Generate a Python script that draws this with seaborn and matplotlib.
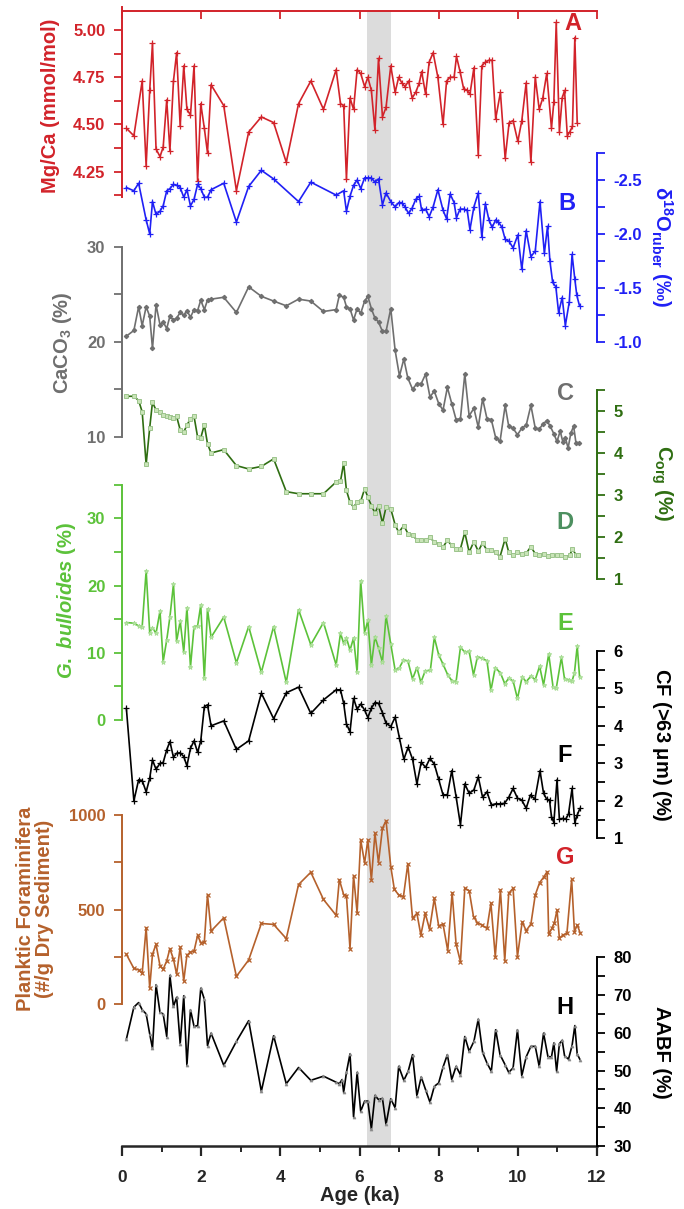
import matplotlib
matplotlib.use("Agg")
import matplotlib.pyplot as plt
import seaborn as sns
from matplotlib.ticker import FormatStrFormatter

# ---- data (age in ka) ----
age_mgca = [0.11,0.30,0.51,0.61,0.70,0.77,0.86,0.96,1.04,1.13,1.21,1.30,1.38,1.47,1.56,1.64,1.73,1.82,1.91,1.99,2.08,2.16,2.25,
            2.57,2.89,3.20,3.52,3.83,4.15,4.46,4.77,5.09,
            5.41,5.52,5.60,5.67,5.76,5.85,5.94,6.03,6.13,6.21,6.30,6.39,6.48,6.58,6.67,6.79,
            6.90,6.99,7.07,7.15,7.24,7.33,7.42,7.51,7.57,7.67,7.76,7.86,7.98,
            8.11,8.20,8.29,8.39,8.45,8.54,8.63,8.72,8.79,8.89,
            9.00,9.09,9.18,9.27,9.35,9.44,9.56,9.68,9.78,9.88,
            10.00,10.10,10.21,10.33,10.44,10.54,10.63,10.73,10.85,10.91,10.97,
            11.05,11.12,11.18,11.25,11.31,11.38,11.44,11.50]
mgca = [4.48,4.44,4.73,4.28,4.68,4.93,4.37,4.33,4.38,4.63,4.36,4.73,4.88,4.49,4.81,4.58,4.55,4.81,4.20,4.61,4.48,4.35,4.71,
        4.60,4.15,4.46,4.54,4.51,4.30,4.61,4.73,4.58,
        4.79,4.61,4.60,4.21,4.64,4.58,4.79,4.77,4.70,4.75,4.68,4.47,4.85,4.54,4.59,4.81,
        4.67,4.75,4.72,4.70,4.73,4.64,4.67,4.72,4.78,4.66,4.83,4.88,4.75,
        4.50,4.73,4.75,4.75,4.86,4.78,4.69,4.68,4.66,4.80,
        4.34,4.81,4.83,4.84,4.84,4.53,4.67,4.32,4.51,4.52,
        4.41,4.52,4.72,4.30,4.75,4.58,4.64,4.77,4.48,4.62,5.04,
        4.46,4.64,4.68,4.44,4.46,4.49,4.96,4.51]

age_d18o = [0.11,0.30,0.42,0.61,0.70,0.77,0.86,0.96,1.04,1.13,1.21,1.30,1.38,1.47,1.56,1.64,1.73,1.82,1.91,1.99,2.08,2.16,2.25,
            2.57,2.89,3.20,3.52,3.83,4.46,4.77,
            5.41,5.60,5.67,5.76,5.85,5.94,6.03,6.13,6.21,6.30,6.39,6.48,6.58,6.67,6.79,
            6.90,6.99,7.07,7.15,7.24,7.33,7.42,7.51,7.57,7.67,7.76,7.86,7.98,
            8.11,8.20,8.29,8.39,8.45,8.54,8.63,8.72,8.79,8.89,
            9.00,9.09,9.18,9.27,9.35,9.44,9.51,9.60,9.68,9.78,9.88,
            10.00,10.10,10.21,10.33,10.44,10.56,10.67,10.75,10.81,10.88,10.96,
            11.03,11.12,11.20,11.30,11.37,11.44,11.49,11.56]
d18o = [-2.43,-2.40,-2.47,-2.13,-2.00,-2.30,-2.18,-2.21,-2.26,-2.40,-2.42,-2.46,-2.45,-2.43,-2.34,-2.41,-2.26,-2.32,-2.46,-2.42,-2.34,-2.34,-2.41,
        -2.47,-2.11,-2.44,-2.59,-2.51,-2.30,-2.48,
        -2.36,-2.40,-2.21,-2.35,-2.45,-2.50,-2.42,-2.52,-2.52,-2.52,-2.48,-2.51,-2.27,-2.38,-2.30,
        -2.25,-2.29,-2.29,-2.25,-2.19,-2.24,-2.32,-2.35,-2.22,-2.23,-2.16,-2.25,-2.41,
        -2.22,-2.14,-2.37,-2.29,-2.15,-2.23,-2.23,-2.22,-2.04,-2.25,
        -2.38,-1.97,-2.28,-2.13,-2.06,-2.13,-2.11,-2.06,-1.95,-1.93,-1.87,
        -1.99,-1.67,-2.03,-1.79,-1.84,-2.30,-1.82,-2.07,-1.75,-1.55,-1.51,
        -1.27,-1.41,-1.15,-1.37,-1.81,-1.58,-1.43,-1.33]

age_caco3 = [0.11,0.30,0.42,0.51,0.61,0.70,0.77,0.86,0.96,1.04,1.13,1.21,1.30,1.38,1.47,1.56,1.64,1.73,1.82,1.91,1.99,2.08,2.16,2.25,
             2.57,2.89,3.20,3.52,3.83,4.15,4.46,4.77,5.09,5.41,5.49,5.60,5.67,5.76,5.85,5.94,6.03,6.13,6.21,6.30,6.39,6.48,6.58,6.67,6.79,
             6.90,7.01,7.12,7.22,7.34,7.45,7.56,7.67,7.78,7.89,
             8.00,8.11,8.22,8.33,8.44,8.55,8.66,8.77,8.89,
             9.00,9.11,9.22,9.33,9.44,9.55,9.68,9.77,9.88,9.99,
             10.10,10.21,10.33,10.44,10.54,10.63,10.73,10.82,10.91,10.99,
             11.07,11.14,11.20,11.27,11.34,11.41,11.47,11.55]
caco3 = [20.6,21.2,23.7,21.7,23.7,22.7,19.3,23.9,21.8,22.1,21.4,22.7,22.3,22.5,23.1,22.8,23.3,22.6,23.4,23.3,24.4,23.4,24.4,24.5,
         24.7,23.1,25.8,24.8,24.3,23.8,24.5,24.3,23.2,23.4,24.9,24.7,23.7,23.5,22.3,23.5,23.0,24.3,24.8,23.5,22.5,22.1,21.1,21.1,23.5,
         19.1,16.4,18.2,16.2,15.0,15.6,15.6,16.6,14.2,14.8,
         13.5,12.8,15.2,13.5,11.8,11.9,16.6,12.2,13.0,
         11.0,14.0,11.9,11.8,9.9,9.5,13.3,11.1,10.9,10.2,
         10.9,11.2,13.3,10.9,10.8,11.3,11.7,11.1,10.3,9.5,
         10.6,9.4,9.9,8.8,10.4,11.1,9.3,9.3]

age_corg = [0.11,0.30,0.42,0.51,0.61,0.70,0.77,0.86,0.96,1.04,1.13,1.21,1.30,1.38,1.47,1.56,1.64,1.73,1.82,1.91,1.99,2.08,2.16,2.25,
            2.57,2.89,3.20,3.52,3.83,4.15,4.46,4.77,5.09,5.41,5.52,5.60,5.67,5.76,5.85,5.94,6.03,6.13,6.21,6.30,6.39,6.48,6.58,6.67,6.79,
            6.90,6.99,7.12,7.23,7.34,7.45,7.56,7.67,7.78,7.89,
            8.00,8.11,8.22,8.33,8.44,8.55,8.66,8.77,8.89,
            9.00,9.11,9.22,9.33,9.44,9.55,9.68,9.77,9.88,9.99,
            10.10,10.21,10.33,10.44,10.54,10.65,10.76,10.87,10.98,
            11.09,11.20,11.31,11.38,11.47,11.53]
corg = [5.35,5.35,5.25,4.98,3.73,4.60,5.21,5.02,4.98,4.91,4.87,4.86,4.84,4.87,4.55,4.50,4.66,4.82,4.87,4.38,4.36,4.67,4.22,4.00,
        4.08,3.70,3.62,3.68,3.86,3.08,3.03,3.03,3.03,3.31,3.33,3.76,3.11,2.83,2.71,2.83,2.85,3.15,2.95,2.75,2.57,2.75,2.33,2.71,2.67,
        2.29,2.11,2.27,2.07,2.05,1.93,1.93,1.92,1.99,1.88,
        1.84,1.76,1.92,1.80,1.72,1.72,2.11,1.64,1.89,
        1.66,1.86,1.68,1.68,1.64,1.53,1.96,1.64,1.56,1.64,
        1.60,1.61,1.77,1.60,1.58,1.60,1.54,1.58,1.56,
        1.57,1.53,1.56,1.72,1.57,1.56]

age_bull = [0.11,0.30,0.42,0.51,0.61,0.70,0.77,0.86,0.96,1.04,1.13,1.21,1.30,1.38,1.47,1.56,1.64,1.73,1.82,1.91,1.99,2.08,2.16,2.25,
            2.57,2.89,3.20,3.52,3.83,4.15,4.46,4.77,5.09,5.41,5.52,5.60,5.67,5.76,5.85,5.94,6.03,6.13,6.21,6.30,6.39,6.48,6.58,6.67,6.79,
            6.90,7.01,7.11,7.22,7.34,7.45,7.55,7.66,7.79,7.89,
            8.00,8.11,8.23,8.34,8.44,8.55,8.66,8.77,8.88,8.98,
            9.09,9.22,9.32,9.43,9.56,9.67,9.77,9.88,9.99,
            10.11,10.21,10.33,10.44,10.55,10.65,10.78,10.89,10.97,
            11.10,11.18,11.28,11.37,11.43,11.50,11.56]
bull = [14.5,14.4,14.0,13.9,22.2,13.0,13.7,12.9,16.2,8.7,11.9,15.3,20.2,11.7,14.7,10.1,16.7,7.9,13.9,14.0,17.1,6.2,16.5,12.3,
        15.3,8.5,13.9,7.1,13.9,5.6,16.4,11.2,14.5,8.2,12.9,11.4,12.2,10.4,12.2,7.1,20.7,12.9,14.8,8.2,12.4,10.7,8.6,15.5,11.3,
        7.4,7.8,8.9,8.8,6.1,7.8,5.6,7.3,7.4,12.3,
        9.7,8.3,6.7,5.8,5.7,10.8,10.1,10.2,6.7,9.4,
        9.2,8.8,4.4,7.8,7.0,5.4,6.2,5.8,3.2,
        6.4,5.7,6.5,6.0,8.0,5.2,9.8,4.9,4.7,
        9.3,6.1,6.0,5.8,7.0,11.0,6.4]

age_cf = [0.11,0.30,0.42,0.51,0.61,0.70,0.77,0.86,0.96,1.04,1.13,1.21,1.30,1.38,1.47,1.56,1.64,1.73,1.82,1.91,1.99,2.08,2.16,2.25,
          2.57,2.89,3.20,3.52,3.83,4.15,4.46,4.77,5.09,5.41,5.52,5.60,5.67,5.76,5.85,5.94,6.03,6.13,6.21,6.30,6.39,6.48,6.58,6.67,6.79,
          6.90,7.01,7.12,7.23,7.34,7.45,7.56,7.67,7.78,7.89,
          8.00,8.11,8.22,8.33,8.44,8.55,8.66,8.77,8.89,
          9.00,9.11,9.22,9.33,9.44,9.55,9.66,9.77,9.88,9.99,
          10.10,10.21,10.32,10.43,10.56,10.65,10.73,10.80,10.85,10.91,10.99,
          11.05,11.13,11.21,11.28,11.37,11.44,11.50,11.57]
cf = [4.47,2.00,2.56,2.54,2.24,2.60,3.09,2.84,3.00,3.02,3.36,3.58,3.16,3.27,3.28,3.18,2.93,3.40,3.60,3.29,3.60,4.51,4.56,4.00,
      4.13,3.37,3.60,4.87,4.19,4.88,5.03,4.33,4.69,4.96,4.96,4.60,4.05,3.84,4.73,4.44,4.58,4.42,4.22,4.47,4.62,4.60,4.35,4.07,3.98,
      4.23,3.67,3.11,3.43,3.11,2.45,3.03,2.89,3.13,2.98,
      2.57,2.16,2.16,2.80,2.11,1.36,2.45,2.20,2.29,
      2.64,2.09,2.24,1.89,1.92,1.92,1.93,2.09,2.33,2.07,
      2.02,1.80,2.16,2.04,2.80,2.20,2.04,2.02,1.58,1.42,2.56,
      1.51,1.53,1.51,1.65,2.33,1.42,1.62,1.80]

age_pf = [0.11,0.30,0.42,0.51,0.61,0.70,0.77,0.86,0.96,1.04,1.13,1.21,1.30,1.38,1.47,1.56,1.64,1.73,1.82,1.91,1.99,2.08,2.16,2.25,
          2.57,2.89,3.20,3.52,3.83,4.15,4.46,4.77,5.09,
          5.41,5.49,5.60,5.67,5.76,5.85,5.94,6.03,6.13,
          6.21,6.30,6.39,6.48,6.58,6.67,6.79,6.88,6.99,7.11,7.22,7.34,7.45,7.55,7.66,7.77,7.89,
          8.00,8.11,8.23,8.34,8.44,8.55,8.66,8.77,8.88,8.98,
          9.09,9.22,9.32,9.43,9.56,9.67,9.77,9.88,9.99,
          10.11,10.21,10.33,10.44,10.55,10.65,10.74,10.78,10.86,10.92,10.99,
          11.05,11.14,11.24,11.36,11.43,11.50,11.58]
pf = [263,188,181,162,404,84,263,316,202,184,228,293,237,158,300,123,258,275,280,363,325,328,579,386,
      456,146,233,426,421,346,632,697,553,
      469,658,579,574,293,679,483,868,746,
      868,656,903,748,930,970,727,607,577,568,741,453,480,365,480,395,559,
      413,423,282,589,317,224,612,600,462,430,
      418,400,533,250,603,229,586,612,250,
      435,388,423,577,642,670,700,370,400,427,497,
      347,365,374,660,383,418,374]

age_aabf = [0.11,0.30,0.42,0.51,0.61,0.70,0.77,0.86,0.96,1.04,1.13,1.21,1.30,1.38,1.47,1.56,1.64,1.73,1.82,1.91,1.99,2.08,2.16,2.25,
            2.57,2.89,3.20,3.52,3.83,4.15,4.46,4.77,5.09,5.41,5.49,5.56,5.60,5.67,5.76,5.85,5.94,6.03,6.13,6.21,6.30,6.39,6.48,6.58,6.67,6.79,
            6.90,6.99,7.12,7.23,7.34,7.45,7.56,7.67,7.78,7.89,
            8.00,8.11,8.22,8.33,8.44,8.55,8.66,8.77,8.89,
            9.00,9.11,9.22,9.33,9.44,9.55,9.68,9.77,9.88,9.99,
            10.10,10.21,10.33,10.44,10.54,10.65,10.76,10.85,10.91,10.98,
            11.05,11.12,11.18,11.28,11.37,11.44,11.50,11.57]
aabf = [58.3,66.8,68.0,66.1,65.0,59.7,55.9,72.7,65.4,65.0,59.0,75.2,67.0,69.4,57.1,69.8,51.4,66.1,61.7,61.9,71.8,68.9,56.6,59.9,
        51.4,57.7,63.2,44.5,59.2,46.5,50.8,47.4,48.5,46.9,46.5,47.6,44.2,49.5,54.4,37.7,49.5,39.2,41.9,41.9,34.5,43.4,42.3,42.6,35.7,42.5,
        40.1,51.1,47.4,49.8,54.2,43.3,48.3,44.9,41.6,45.8,
        46.7,50.9,54.2,47.6,51.1,48.9,59.0,55.1,57.7,
        63.6,54.8,52.0,49.8,60.8,54.2,51.5,49.5,50.7,60.8,
        48.6,53.6,56.4,56.4,51.1,59.9,53.7,53.6,57.3,49.8,
        57.1,58.0,53.9,53.0,56.6,61.9,54.4,52.9]

x_ticks = [0, 2, 4, 6, 8, 10, 12]
event = (6.2, 6.8)

# ---- style ----
sns.set_style("ticks")
plt.rcParams['font.family'] = ['Liberation Sans', 'DejaVu Sans']
plt.rcParams['font.weight'] = 'bold'
plt.rcParams['axes.unicode_minus'] = False
plt.rcParams['mathtext.fontset'] = 'custom'
plt.rcParams['mathtext.rm'] = 'Liberation Sans:bold'
plt.rcParams['mathtext.bf'] = 'Liberation Sans:bold'
plt.rcParams['mathtext.it'] = 'Liberation Sans:bold:italic'
plt.rcParams['mathtext.default'] = 'bf'

RED = '#d2232a'
BLUE = '#2020f5'
GRAY = '#6f6f6f'
DKGREEN = '#2f6e12'
LTGREEN = '#5cc23a'
BROWN = '#b5612c'

W, H = 684, 1209
X0, X1 = 122, 597
YTOP, YBOT = 11, 1146
fig = plt.figure(figsize=(W / 100, H / 100), dpi=100)
rect = [X0 / W, 1 - YBOT / H, (X1 - X0) / W, (YBOT - YTOP) / H]


def ylims(v1, p1, v2, p2):
    # values at the bottom and top pixel rows of the shared plot box
    k = (v2 - v1) / (p2 - p1)
    return v1 + (YBOT - p1) * k, v1 + (YTOP - p1) * k


# base axes: age axis and shaded interval
ax0 = fig.add_axes(rect, label='base')
ax0.set_xlim(0, 12)
ax0.set_ylim(0, 1)
ax0.axvspan(*event, color='#dcdcdc', lw=0, zorder=0)
for s in ['left', 'right', 'top']:
    ax0.spines[s].set_visible(False)
ax0.spines['bottom'].set_linewidth(1.8)
ax0.set_xticks(x_ticks)
ax0.set_xticks(range(0, 13), minor=True)
ax0.set_yticks([])
ax0.tick_params(axis='x', which='major', length=7, width=1.6, labelsize=12.5, pad=10)
ax0.tick_params(axis='x', which='minor', length=4.5, width=1.4)
ax0.set_xlabel('Age (ka)', fontsize=14.5, fontweight='bold', labelpad=1)


def panel(name, side, color, cal, bounds, major, minor, fmt):
    ax = fig.add_axes(rect, sharex=ax0, label=name)
    ax.patch.set_visible(False)
    ax.set_ylim(*ylims(*cal))
    for s in ['left', 'right', 'top', 'bottom']:
        ax.spines[s].set_visible(False)
    sp = ax.spines[side]
    sp.set_visible(True)
    sp.set_bounds(*bounds)
    sp.set_color(color)
    sp.set_linewidth(1.4)
    if side == 'right':
        ax.yaxis.tick_right()
    else:
        ax.yaxis.tick_left()
    ax.set_yticks(major)
    ax.set_yticks(minor, minor=True)
    ax.yaxis.set_major_formatter(FormatStrFormatter(fmt))
    ax.tick_params(axis='y', which='both', colors=color, width=1.3, pad=6.5, labelsize=12)
    ax.tick_params(axis='y', which='major', length=5.5)
    ax.tick_params(axis='y', which='minor', length=5.5)
    ax.tick_params(axis='x', which='both', bottom=False, top=False, labelbottom=False, labeltop=False)
    return ax


def draw(ax, age, vals, color, marker, ms, mfc=None, mec=None, mew=0.9):
    sns.lineplot(x=age, y=vals, ax=ax, color=color, linewidth=1.2, sort=False, estimator=None,
                 marker=marker, markersize=ms, markeredgewidth=mew,
                 markeredgecolor=mec or color, markerfacecolor=mfc or color)
    ax.set_xlabel('')
    ax.set_ylabel('')


# A  Mg/Ca
axA = panel('A', 'left', RED, (5.0, 30.0, 4.25, 171.7), (4.115, 5.12),
            [4.25, 4.5, 4.75, 5.0], [4.125, 4.375, 4.625, 4.875], '%.2f')
axA.spines['top'].set_visible(True)
axA.spines['top'].set_color(RED)
axA.spines['top'].set_linewidth(1.4)
axA.tick_params(axis='x', which='major', top=True, direction='in', length=6, width=1.3, color=RED)
draw(axA, age_mgca, mgca, RED, '+', 4)

# B  d18O
axB = panel('B', 'right', BLUE, (-2.5, 180.0, -1.0, 341.7), (-2.75, -1.0),
            [-2.5, -2.0, -1.5, -1.0], [-2.75, -2.25, -1.75, -1.25], '%.1f')
draw(axB, age_d18o, d18o, BLUE, '+', 4)

# C  CaCO3
axC = panel('C', 'left', GRAY, (30, 247.0, 10, 436.7), (10, 30), [10, 20, 30], [15, 25], '%d')
draw(axC, age_caco3, caco3, GRAY, 'D', 2.2)

# D  Corg
axD = panel('D', 'right', DKGREEN, (5, 411.0, 1, 579.0), (1, 5.5),
            [1, 2, 3, 4, 5], [1.5, 2.5, 3.5, 4.5, 5.5], '%d')
draw(axD, age_corg, corg, DKGREEN, 's', 3.2, mfc='#c9e4b8', mec='#9cc48c', mew=0.7)

# E  G. bulloides
axE = panel('E', 'left', LTGREEN, (30, 518.3, 0, 720.0), (0, 35),
            [0, 10, 20, 30], [5, 15, 25, 35], '%d')
draw(axE, age_bull, bull, LTGREEN, '*', 3.5, mfc='#b8e6a6', mec='#a6dc92', mew=0.6)

# F  coarse fraction
axF = panel('F', 'right', 'black', (5, 688.3, 1, 838.3), (1, 6),
            [1, 2, 3, 4, 5, 6], [1.5, 2.5, 3.5, 4.5, 5.5], '%d')
draw(axF, age_cf, cf, 'black', '+', 5)

# G  planktic foraminifera
axG = panel('G', 'left', BROWN, (1000, 815.0, 0, 1004.0), (0, 1000),
            [0, 500, 1000], [250, 750], '%d')
draw(axG, age_pf, pf, BROWN, 'x', 3.5)

# H  AABF
axH = panel('H', 'right', 'black', (80, 957.3, 30, 1146.0), (30, 80),
            [30, 40, 50, 60, 70, 80], [35, 45, 55, 65, 75], '%d')
draw(axH, age_aabf, aabf, 'black', '^', 2.2, mfc='#888888', mec='#888888', mew=0.4)

ax0.set_xlim(0, 12)


def ftext(px, py, s, **kw):
    fig.text(px / W, 1 - py / H, s, ha='center', va='center', fontweight='bold', **kw)


# axis titles
ftext(51, 106, 'Mg/Ca (mmol/mol)', color=RED, fontsize=14.5, rotation=90)
ftext(63, 343, 'CaCO$_3$ (%)', color=GRAY, fontsize=14.5, rotation=90)
ftext(67, 600, r'$\it{G.\ bulloides}$ (%)', color=LTGREEN, fontsize=14.5, rotation=90)
ftext(35, 909, 'Planktic Foraminifera\n(#/g Dry Sediment)', color=BROWN, fontsize=14.5,
      rotation=90, linespacing=1.0, multialignment='center')
ftext(662, 247, r'$\delta^{18}$O$_{ruber}$ (‰)', color=BLUE, fontsize=14.5, rotation=270)
ftext(662, 483, 'C$_{org}$ (%)', color=DKGREEN, fontsize=14.5, rotation=270)
ftext(662, 745, r'CF (>63 $\mu$m) (%)', color='black', fontsize=14.5, rotation=270)
ftext(662, 1052, 'AABF (%)', color='black', fontsize=14.5, rotation=270)

# panel letters
letters = [('A', 573, 23, RED), ('B', 567, 203, BLUE), ('C', 565, 393, GRAY),
           ('D', 565, 522, '#4d9060'), ('E', 565, 623, LTGREEN), ('F', 565, 755, 'black'),
           ('G', 565, 857, RED), ('H', 565, 1008, 'black')]
for t, px, py, c in letters:
    ftext(px, py, t, color=c, fontsize=17)

fig.savefig('out.png', dpi=100)
